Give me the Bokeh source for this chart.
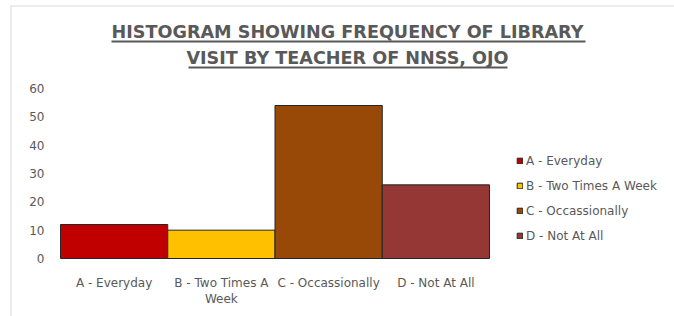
from bokeh.plotting import figure
from bokeh.models import Label, Legend, LegendItem, BoxAnnotation, FixedTicker
from bokeh.embed import file_html
from bokeh.resources import INLINE

categories = ["A - Everyday", "B - Two Times A Week", "C - Occassionally", "D - Not At All"]
tick_labels = ["A - Everyday", "B - Two Times A\nWeek", "C - Occassionally", "D - Not At All"]
values = [12, 10, 54, 26]
colors = ["#C00000", "#FFC000", "#984807", "#953735"]
y_ticks = [0, 10, 20, 30, 40, 50, 60]
title_lines = ["HISTOGRAM SHOWING FREQUENCY OF LIBRARY", "VISIT BY TEACHER OF NNSS, OJO"]

FONT = "DejaVu Sans"
GREY = "#595959"

W, H = 674, 316
ORIGIN_X, ORIGIN_Y = 60, 258      # pixel position of the (0, 0) corner of the plot area
BAR_PX = 107.25                   # pixel width of one histogram bin
PX_PER_UNIT = 170 / 60            # vertical pixels per count
xs = [i + 0.5 for i in range(len(categories))]

p = figure(width=W, height=H,
           x_range=(-ORIGIN_X / BAR_PX, (W - ORIGIN_X) / BAR_PX),
           y_range=(-(H - ORIGIN_Y) / PX_PER_UNIT, ORIGIN_Y / PX_PER_UNIT),
           output_backend="svg", toolbar_location=None,
           min_border_left=0, min_border_right=0, min_border_top=0, min_border_bottom=0)
p.outline_line_color = None
p.xgrid.visible = False
p.ygrid.visible = False

renderers = []
for x, v, col in zip(xs, values, colors):
    r = p.vbar(x=[x], top=[v], width=1.0, fill_color=col, line_color="#262626", line_width=1)
    renderers.append(r)

p.yaxis.ticker = FixedTicker(ticks=y_ticks)
p.xaxis.ticker = FixedTicker(ticks=xs)
p.xaxis.major_label_overrides = {x: t for x, t in zip(xs, tick_labels)}
p.xaxis.fixed_location = 0
p.yaxis.fixed_location = 0
for ax in (p.xaxis[0], p.yaxis[0]):
    ax.axis_line_color = None
    ax.major_tick_line_color = None
    ax.minor_tick_line_color = None
    ax.major_tick_out = 0
    ax.major_tick_in = 0
    ax.major_label_text_color = GREY
    ax.major_label_text_font = FONT
    ax.major_label_text_font_size = "12px"
p.xaxis.major_label_text_line_height = 1.2
p.xaxis.major_label_standoff = 17
p.yaxis.major_label_standoff = 16

legend = Legend(items=[LegendItem(label=c, renderers=[r]) for c, r in zip(categories, renderers)],
                location=(516, 73), border_line_color=None, background_fill_alpha=0,
                label_text_font=FONT, label_text_font_size="12px", label_text_color=GREY,
                glyph_width=7, glyph_height=7, label_height=15, spacing=10,
                padding=0, margin=0, label_standoff=3)
p.add_layout(legend, "center")

# title, underlined
for t, y in zip(title_lines, [285, 259]):
    p.add_layout(Label(x=347, y=y, x_units="screen", y_units="screen", text=t,
                       text_align="center", text_baseline="middle", text_font=FONT,
                       text_font_style="bold", text_font_size="17.6px", text_color=GREY))
for (l, r), b in zip([(111, 585), (188, 507)], [274, 248]):
    p.add_layout(BoxAnnotation(left=l, right=r, bottom=b, top=b + 2,
                               left_units="screen", right_units="screen",
                               bottom_units="screen", top_units="screen",
                               fill_color=GREY, fill_alpha=1, line_color=None))

# light chart-area border (left and top edges)
p.add_layout(BoxAnnotation(left=10, right=11, bottom=0, top=311,
                           left_units="screen", right_units="screen",
                           bottom_units="screen", top_units="screen",
                           fill_color="#d9d9d9", fill_alpha=1, line_color=None))
p.add_layout(BoxAnnotation(left=10, right=W, bottom=310, top=311,
                           left_units="screen", right_units="screen",
                           bottom_units="screen", top_units="screen",
                           fill_color="#d9d9d9", fill_alpha=1, line_color=None))

out = file_html(p, INLINE)
open("out.html", "w").write(out)
